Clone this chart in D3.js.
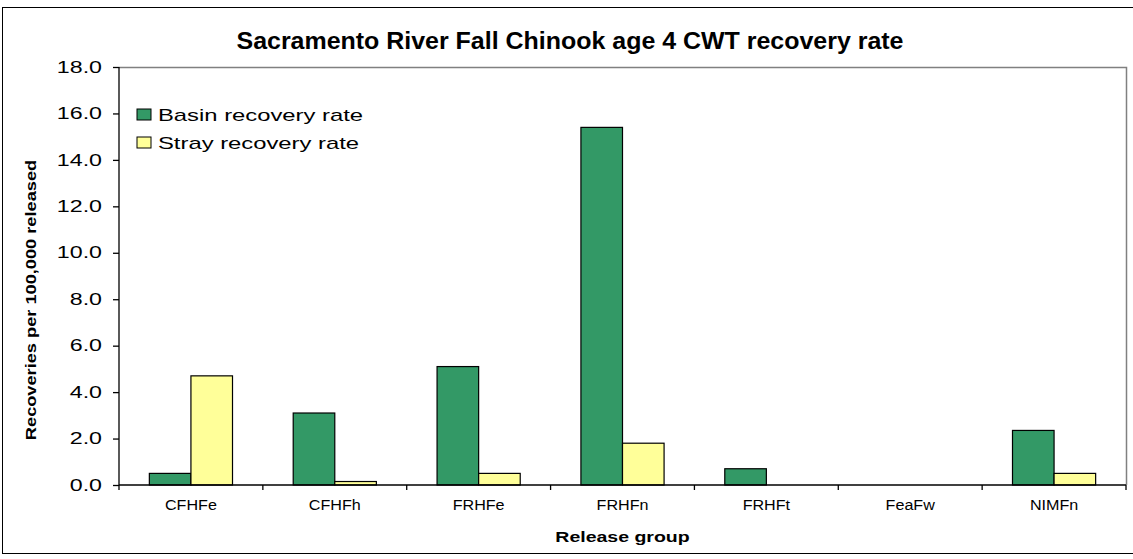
<!DOCTYPE html>
<html>
<head>
<meta charset="utf-8">
<script src="https://cdn.jsdelivr.net/npm/d3@7"></script>
<style>
  body { margin: 0; background: #fff; }
  text { font-family: Arial, "Liberation Sans", sans-serif; }
</style>
</head>
<body>
<div class="chart"></div>
<script>
var categories = ["CFHFe", "CFHFh", "FRHFe", "FRHFn", "FRHFt", "FeaFw", "NIMFn"];
var seriesNames = ["Basin recovery rate", "Stray recovery rate"];
var basinRate = [0.5, 3.1, 5.1, 15.4, 0.7, 0, 2.35];
var strayRate = [4.7, 0.15, 0.5, 1.8, 0, 0, 0.5];
var yTicks = [0, 2, 4, 6, 8, 10, 12, 14, 16, 18];
var colors = ["#339966", "#ffff99"];

var width = 1133, height = 559;
var plot = {left: 119, top: 67, right: 1126, bottom: 485};

var svg = d3.select(".chart").append("svg")
            .attr("width", width)
            .attr("height", height);

// the source image is stretched sideways, so widen text to match
function stretch(sel, k){
  sel.each(function(){
    var w = this.getComputedTextLength();
    d3.select(this).attr("textLength", w * k).attr("lengthAdjust", "spacingAndGlyphs");
  });
}

// outer chart border
svg.append("rect")
   .attr("x", 2.5).attr("y", 7.5)
   .attr("width", 1140).attr("height", 546)
   .attr("fill", "none")
   .attr("stroke", "#000")
   .attr("stroke-width", 1);

var x0 = d3.scaleBand().domain(categories).range([plot.left, plot.right]).padding(0);
var x1 = d3.scaleBand().domain(seriesNames).range([0, x0.bandwidth()])
           .paddingInner(0).paddingOuter(0.73);
var y = d3.scaleLinear().domain([0, 18]).range([plot.bottom, plot.top]);

// plot area frame (top and right in gray)
svg.append("path")
   .attr("d", "M" + plot.left + "," + (plot.top + 0.5) + "H" + (plot.right + 0.5) + "V" + plot.bottom)
   .attr("fill", "none")
   .attr("stroke", "#808080")
   .attr("stroke-width", 1.5);

var rows = categories.map(function(c, i){
  return {cat: c, values: [basinRate[i], strayRate[i]]};
});

var groups = svg.selectAll("g.group").data(rows)
  .enter().append("g")
  .attr("class", "group")
  .attr("transform", function(d){ return "translate(" + x0(d.cat) + ",0)"; });

groups.selectAll("rect")
  .data(function(d){ return d.values.map(function(v, j){ return {name: seriesNames[j], v: v, j: j}; })
                      .filter(function(e){ return e.v > 0; }); })
  .enter().append("rect")
  .attr("x", function(d){ return x1(d.name); })
  .attr("y", function(d){ return y(d.v); })
  .attr("width", x1.bandwidth())
  .attr("height", function(d){ return y(0) - y(d.v); })
  .attr("fill", function(d){ return colors[d.j]; })
  .attr("stroke", "#000")
  .attr("stroke-width", 1.2);

// y axis
var yAxis = svg.append("g")
  .attr("transform", "translate(" + plot.left + ",0)")
  .call(d3.axisLeft(y).tickValues(yTicks).tickFormat(d3.format(".1f")).tickSize(6).tickPadding(11));
yAxis.selectAll("text").style("font-size", "16px").attr("fill", "#000");
yAxis.selectAll("line, path").attr("stroke", "#000").attr("stroke-width", 1.3);
yAxis.select("path").attr("d", "M0," + plot.top + "V" + plot.bottom);
stretch(yAxis.selectAll("text"), 1.45);

// x axis with ticks at category boundaries
var xAxis = svg.append("g")
  .attr("transform", "translate(0," + plot.bottom + ")");
xAxis.append("line")
  .attr("x1", plot.left).attr("x2", plot.right)
  .attr("stroke", "#000").attr("stroke-width", 1.3);
var bounds = categories.map(function(c){ return x0(c); }).concat([plot.right]);
xAxis.selectAll("line.tick").data(bounds).enter().append("line")
  .attr("class", "tick")
  .attr("x1", function(d){ return d; }).attr("x2", function(d){ return d; })
  .attr("y1", 0).attr("y2", 5)
  .attr("stroke", "#000").attr("stroke-width", 1.3);
var xLabels = xAxis.selectAll("text").data(categories).enter().append("text")
  .attr("x", function(d){ return x0(d) + x0.bandwidth() / 2; })
  .attr("y", 25)
  .attr("text-anchor", "middle")
  .style("font-size", "14px")
  .text(function(d){ return d; });
stretch(xLabels, 1.15);

// titles
var title = svg.append("text")
  .attr("x", 570).attr("y", 49)
  .attr("text-anchor", "middle")
  .style("font-size", "24px").style("font-weight", "bold")
  .text("Sacramento River Fall Chinook age 4 CWT recovery rate");
title.attr("textLength", 667).attr("lengthAdjust", "spacingAndGlyphs");

var xTitle = svg.append("text")
  .attr("x", (plot.left + plot.right) / 2).attr("y", 542)
  .attr("text-anchor", "middle")
  .style("font-size", "15px").style("font-weight", "bold")
  .text("Release group");
stretch(xTitle, 1.3);

var yTitle = svg.append("text")
  .attr("transform", "translate(36,300) rotate(-90)")
  .attr("text-anchor", "middle")
  .style("font-size", "14px").style("font-weight", "bold")
  .text("Recoveries per 100,000 released");
stretch(yTitle, 1.3);

// legend
var legend = svg.selectAll("g.legend").data(seriesNames).enter().append("g")
  .attr("class", "legend")
  .attr("transform", function(d, i){ return "translate(137," + (109 + i * 28) + ")"; });
legend.append("rect")
  .attr("width", 14).attr("height", 11)
  .attr("fill", function(d, i){ return colors[i]; })
  .attr("stroke", "#000").attr("stroke-width", 1);
var legendText = legend.append("text")
  .attr("x", 21).attr("y", 12)
  .style("font-size", "17px")
  .text(function(d){ return d; });
stretch(legendText, 1.4);
</script>
</body>
</html>
